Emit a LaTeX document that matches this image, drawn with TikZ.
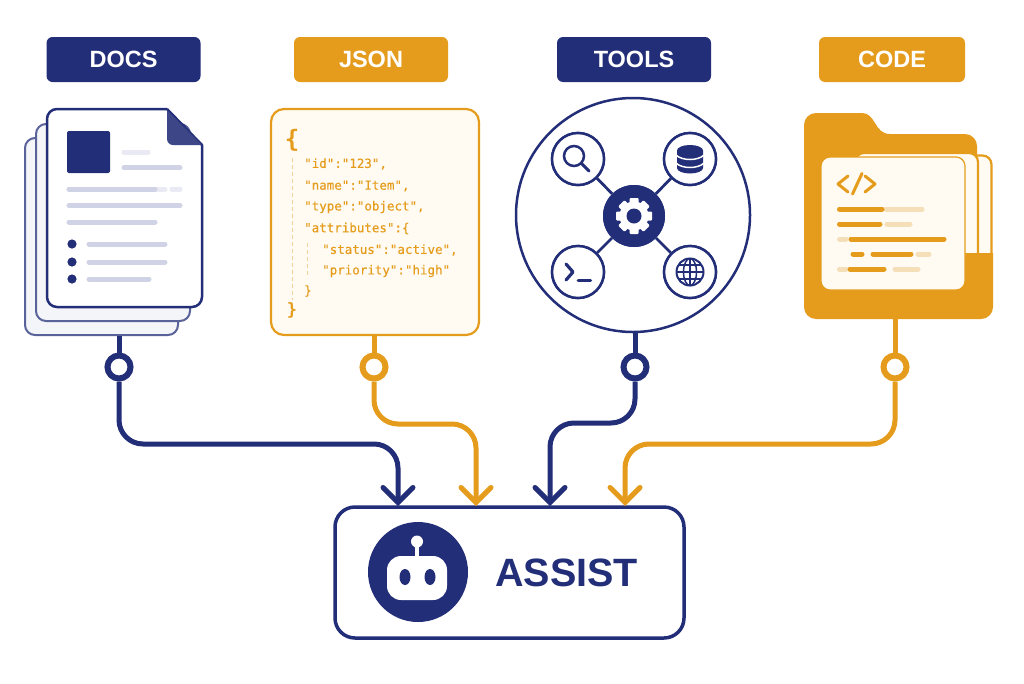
\documentclass[tikz,border=0pt]{standalone}
\usepackage{fontspec}
\setmainfont{Liberation Sans}
\newfontfamily\jsonfont[FakeBold=0.35]{DejaVu Sans Mono}
\newfontfamily\jsonbracefont{DejaVu Sans Mono}
\usetikzlibrary{arrows.meta,calc}
\definecolor{navy}{HTML}{232E78}
\definecolor{amber}{HTML}{E59C1C}
\definecolor{cream}{HTML}{FFFBF3}
\definecolor{barnavy}{HTML}{D0D3E6}
\definecolor{barpale}{HTML}{E9EAF3}
\definecolor{baramber}{HTML}{F4DFB8}
\tikzset{
  x=1pt,y=-1pt,
  tagbox/.style={rounded corners=6pt,text=white,font=\fontsize{23.5}{28}\selectfont\bfseries,inner sep=0pt,minimum height=45pt},
  backpage/.style={draw=#1!75,fill=#1!5,line width=2pt,rounded corners=10pt,inner sep=0pt},
  ringnode/.style={circle,draw=#1,fill=white,line width=6pt,minimum size=23pt,inner sep=0pt},
  conn/.style={draw=#1,line width=5pt,rounded corners=24pt,-{Straight Barb[length=15pt,width=30pt,line cap=round,line width=5pt]}},
  stem/.style={draw=#1,line width=5pt},
  nbar/.style={draw=barnavy,line width=5pt,line cap=round},
  pbar/.style={draw=barpale,line width=5pt,line cap=round},
  abar/.style={draw=amber,line width=5pt,line cap=round},
  lbar/.style={draw=baramber,line width=5pt,line cap=round},
  jsontext/.style={text=amber,font=\jsonfont\fontsize{12.5}{15}\selectfont,anchor=west,inner sep=0pt},
  bracetext/.style={text=amber,font=\jsonbracefont\fontsize{24}{28}\selectfont\bfseries,inner sep=0pt},
  toolring/.style={circle,draw=navy,fill=white,line width=2.5pt,minimum size=52pt,inner sep=0pt},
  spoke/.style={draw=navy,line width=2.8pt},
  icon/.style={draw=navy,line width=2.5pt,line cap=round},
  guide/.style={draw=amber!45,line width=1pt,dash pattern=on 4pt off 3pt},
}
\begin{document}
\begin{tikzpicture}
\fill[white] (0,0) rectangle (1024,683);
\useasboundingbox (0,0) rectangle (1024,683);

% tags
\node[tagbox,fill=navy,minimum width=154pt] (tagdocs) at (123.5,59.5) {DOCS};
\node[tagbox,fill=amber,minimum width=154pt] (tagjson) at (371,59.5) {JSON};
\node[tagbox,fill=navy,minimum width=154pt] (tagtools) at (634,59.5) {TOOLS};
\node[tagbox,fill=amber,minimum width=146pt] (tagcode) at (892,59.5) {CODE};

% rings
\node[ringnode=navy] (ringa) at (119,367) {};
\node[ringnode=amber] (ringb) at (374,367) {};
\node[ringnode=navy] (ringc) at (635,367) {};
\node[ringnode=amber] (ringd) at (895,367) {};

% assist box
\node[draw=navy,line width=3.5pt,rounded corners=20pt,minimum width=349pt,minimum height=131pt,inner sep=0pt,fill=white] (assist) at (509.5,572.5) {};
\coordinate (tipa) at (398,506);
\coordinate (tipb) at (476,506);
\coordinate (tipc) at (550,506);
\coordinate (tipd) at (625,506);
\coordinate (viaa) at (250,444);
\coordinate (viab) at (420,424);
\coordinate (viac) at (590,423);
\coordinate (viad) at (760,444);

% docs
\node[backpage=navy,minimum width=153pt,minimum height=197pt] (docsback) at (101.5,236.5) {};
\node[backpage=navy,minimum width=154pt,minimum height=197pt] (docsmid) at (113,222.5) {};
\draw[navy,line width=2.5pt,fill=white,line join=round] (167,109) -- (202,145) [rounded corners=10pt] -- (202,307) -- (47,307) -- (47,109) -- (167,109);
\fill[navy!88!white] (167,110) -- (202,145) [rounded corners=6pt] -- (167,145) [sharp corners] -- cycle;
\fill[navy,rounded corners=2pt] (67,131) rectangle (110,173);
\draw[pbar] (124,152) -- (148,152);
\draw[nbar] (124,167.5) -- (180,167.5);
\draw[pbar] (69,189) -- (165,189);
\draw[nbar] (69,189) -- (155,189);
\draw[pbar] (172,189) -- (180,189);
\draw[nbar] (69,205.5) -- (180,205.5);
\draw[nbar] (69,222) -- (155,222);
\foreach \yy/\xe in {244/165,262/165,279/149}{
  \fill[navy] (72,\yy) circle (4.6);
  \draw[nbar] (89,\yy) -- (\xe,\yy);
}

% json
\node[draw=amber,fill=cream,line width=2.2pt,rounded corners=13pt,minimum width=208pt,minimum height=226pt,inner sep=0pt] (jsonbox) at (375,222) {};
\draw[guide] (292,158) -- (292,300);
\draw[guide] (307,243) -- (307,278);
\node[bracetext] (jopen) at (292,140) {\{};
\node[jsontext] (j1) at (304,164) {"id":"123",};
\node[jsontext] (j2) at (304,186) {"name":"Item",};
\node[jsontext] (j3) at (304,207) {"type":"object",};
\node[jsontext] (j4) at (304,228.5) {"attributes":\{};
\node[jsontext] (j5) at (322,250) {"status":"active",};
\node[jsontext] (j6) at (322,271) {"priority":"high"};
\node[jsontext] (j7) at (304,291) {\}};
\node[bracetext,font=\jsonbracefont\fontsize{17}{20}\selectfont\bfseries] (j8) at (292,310) {\}};

% tools
\node[circle,draw=navy,fill=white,line width=2.5pt,minimum size=234pt,inner sep=0pt] (toolcircle) at (633,215) {};
\node[circle,fill=navy,minimum size=62pt,inner sep=0pt] (hub) at (634,216) {};
\node[toolring] (tsearch) at (578,159) {};
\node[toolring] (tdb) at (690,159) {};
\node[toolring] (tterm) at (578,272) {};
\node[toolring] (tweb) at (690,272) {};
\draw[spoke] (hub) -- (tsearch);
\draw[spoke] (hub) -- (tdb);
\draw[spoke] (hub) -- (tterm);
\draw[spoke] (hub) -- (tweb);
\node[circle,fill=navy,minimum size=62pt,inner sep=0pt] at (634,216) {};
\node[toolring] at (578,159) {};
\node[toolring] at (690,159) {};
\node[toolring] at (578,272) {};
\node[toolring] at (690,272) {};
% gear
\foreach \a in {0,45,...,315}{
  \fill[white,rotate around={\a:(634,216)},rounded corners=1pt] (629.5,198) rectangle (638.5,207);
}
\fill[white] (634,216) circle (14.5);
\fill[navy] (634,216) circle (7.5);
% search
\draw[icon] (574,156) circle (10);
\draw[icon,line width=3pt] (581.5,163.5) -- (589,171);
% database
\fill[navy] (677,150.5) arc[start angle=180,end angle=360,x radius=13,y radius=5.5] -- (703,168) arc[start angle=0,end angle=180,x radius=13,y radius=5.5] -- cycle;
\draw[white,line width=1.5pt] (676,155) .. controls (682,161) and (698,161) .. (704,155);
\draw[white,line width=1.5pt] (676,163) .. controls (682,169) and (698,169) .. (704,163);
% terminal
\draw[icon,line width=3.2pt,line join=round] (566,264) -- (573,272) -- (566,280);
\draw[icon,line width=3pt] (578,280) -- (590.5,280);
% globe
\draw[navy,line width=2pt] (690,272) circle (13.5);
\draw[navy,line width=1.5pt] (690,272) ellipse (6.5 and 13.5);
\draw[navy,line width=1.5pt] (690,258.5) -- (690,285.5);
\draw[navy,line width=1.5pt] (676.5,272) -- (703.5,272);
\draw[navy,line width=1.5pt] (678.5,265) -- (701.5,265);
\draw[navy,line width=1.5pt] (678.5,279) -- (701.5,279);

% code folder
\fill[amber] (804,125) arc[start angle=180,end angle=270,radius=12] -- (862,113) .. controls (876,113) and (874,134) .. (890,134) -- (965,134) arc[start angle=270,end angle=360,radius=12] -- (977,260) -- (804,260) -- cycle;
\draw[amber,line width=2.2pt,fill=cream,rounded corners=9pt] (855,260) -- (855,155.5) -- (991.5,155.5) -- (991.5,260);
\draw[amber,line width=2.2pt,fill=cream,rounded corners=9pt] (855,260) -- (855,153) -- (978,153) -- (978,260);
\fill[amber] (804,253) -- (993,253) -- (993,307) arc[start angle=0,end angle=90,radius=12] -- (816,319) arc[start angle=90,end angle=180,radius=12] -- cycle;
\node[draw=amber,fill=cream,line width=1.2pt,rounded corners=9pt,minimum width=144pt,minimum height=133pt,inner sep=0pt] (paper) at (893,223.5) {};
\node[inner sep=0pt,minimum width=146pt,minimum height=66pt] (codebase) at (899,286) {};
\draw[icon,draw=amber,line join=round,line width=3pt] (848,176) -- (838,184) -- (848,192);
\draw[icon,draw=amber,line width=3pt] (862,173.5) -- (852.5,194);
\draw[icon,draw=amber,line join=round,line width=3pt] (865,176) -- (875,184) -- (865,192);
\draw[lbar] (886,209) -- (922,209);
\draw[abar] (839.5,209) -- (882,209);
\draw[lbar] (887,224) -- (910,224);
\draw[abar] (839.5,224) -- (880,224);
\draw[lbar] (839.5,239) -- (846,239);
\draw[abar] (851,239) -- (944,239);
\draw[abar] (853,254) -- (862,254);
\draw[abar] (873,254) -- (911,254);
\draw[lbar] (918,254) -- (929,254);
\draw[lbar] (839.5,269) -- (846,269);
\draw[abar] (850,269) -- (884,269);
\draw[lbar] (895,269) -- (918,269);

% stems
\draw[stem=navy] (ringa.north) -- (ringa.north |- docsback.south);
\draw[stem=amber] (ringb.north) -- (ringb.north |- jsonbox.south);
\draw[stem=navy] (ringc.north) -- (ringc.north |- toolcircle.south);
\draw[stem=amber] (ringd.north) -- (ringd.north |- codebase.south);

% connectors
\draw[conn=navy] (ringa.south) -- (ringa.south |- viaa) -- (viaa -| tipa) -- (tipa);
\draw[conn=amber] (ringb.south) -- (ringb.south |- viab) -- (viab -| tipb) -- (tipb);
\draw[conn=navy] (ringc.south) -- (ringc.south |- viac) -- (viac -| tipc) -- (tipc);
\draw[conn=amber] (ringd.south) -- (ringd.south |- viad) -- (viad -| tipd) -- (tipd);

% assist content
\node[circle,fill=navy,minimum size=100pt,inner sep=0pt] (bot) at (418,572) {};
\draw[white,line width=3.5pt] (417,542) -- (417,558);
\fill[white] (417,541.5) circle (6);
\fill[white,rounded corners=14pt] (387,556) rectangle (447,600);
\fill[navy] (405,577) ellipse (5.5 and 8);
\fill[navy] (430,577) ellipse (5.5 and 8);
\node[text=navy,font=\fontsize{39.5}{46}\selectfont\bfseries,inner sep=0pt] (assistlabel) at (566.5,572.5) {ASSIST};
\end{tikzpicture}
\end{document}
